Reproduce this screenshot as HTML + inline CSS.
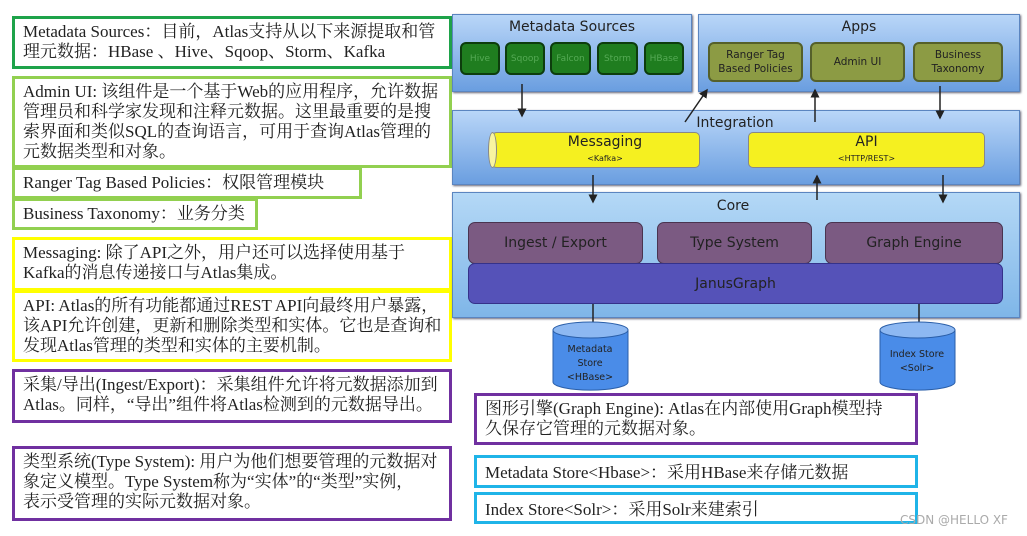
<!DOCTYPE html>
<html><head><meta charset="utf-8"><style>
body{margin:0;width:1027px;height:536px;background:#fff;position:relative;overflow:hidden;font-family:"Liberation Serif","Noto Serif CJK SC",serif;}
.t{position:absolute;box-sizing:border-box;font-size:17px;line-height:20px;color:#222;padding:3px 8px;background:#fff;white-space:nowrap;overflow:hidden}
.g1{border:3px solid #1ea34a}.g2{border:3px solid #92d050}.y{border:3px solid #ffff00}.p{border:3px solid #7030a0}.c{border:3px solid #1fb4e8}
.pan{position:absolute;box-sizing:border-box;background:linear-gradient(#b9d6f8,#6a9ee0);border:1px solid #5b85c0;box-shadow:1px 1px 2px #667;}
.lbl{position:absolute;font-family:"DejaVu Sans",sans-serif;color:#222;font-size:14px;text-align:center}
.sb{position:absolute;box-sizing:border-box;background:#1f7d1f;border:2px solid #0d3d0d;border-radius:6px;color:#55aa55;font:9px "DejaVu Sans",sans-serif;display:flex;align-items:center;justify-content:center}
.ab{position:absolute;box-sizing:border-box;background:#8c9b44;border:2px solid #55602a;border-radius:6px;color:#222;font:10.5px "DejaVu Sans",sans-serif;display:flex;align-items:center;justify-content:center;text-align:center;line-height:14px}
.pb{position:absolute;box-sizing:border-box;background:#7b5a82;border:1px solid #4a3450;border-radius:7px;color:#222;font:14px "DejaVu Sans",sans-serif;display:flex;align-items:center;justify-content:center}
</style></head><body>
<div class="t g1" style="left:12px;top:16px;width:440px;height:53px">Metadata Sources：目前，Atlas支持从以下来源提取和管<br>理元数据：HBase 、Hive、Sqoop、Storm、Kafka</div>
<div class="t g2" style="left:12px;top:76px;width:440px;height:92px">Admin UI: 该组件是一个基于Web的应用程序，允许数据<br>管理员和科学家发现和注释元数据。这里最重要的是搜<br>索界面和类似SQL的查询语言，可用于查询Atlas管理的<br>元数据类型和对象。</div>
<div class="t g2" style="left:12px;top:167px;width:350px;height:32px">Ranger Tag Based Policies：权限管理模块</div>
<div class="t g2" style="left:12px;top:198px;width:246px;height:32px">Business Taxonomy：业务分类</div>
<div class="t y" style="left:12px;top:237px;width:440px;height:54px">Messaging: 除了API之外，用户还可以选择使用基于<br>Kafka的消息传递接口与Atlas集成。</div>
<div class="t y" style="left:12px;top:290px;width:440px;height:72px">API: Atlas的所有功能都通过REST API向最终用户暴露，<br>该API允许创建，更新和删除类型和实体。它也是查询和<br>发现Atlas管理的类型和实体的主要机制。</div>
<div class="t p" style="left:12px;top:369px;width:440px;height:54px">采集/导出(Ingest/Export)：采集组件允许将元数据添加到<br>Atlas。同样，“导出”组件将Atlas检测到的元数据导出。</div>
<div class="t p" style="left:12px;top:446px;width:440px;height:75px">类型系统(Type System): 用户为他们想要管理的元数据对<br>象定义模型。Type System称为“实体”的“类型”实例，<br>表示受管理的实际元数据对象。</div>

<div class="pan" style="left:452px;top:14px;width:240px;height:78px"></div>
<div class="lbl" style="left:452px;top:19px;width:240px">Metadata Sources</div>
<div class="sb" style="left:460px;top:42px;width:40px;height:33px">Hive</div>
<div class="sb" style="left:505px;top:42px;width:40px;height:33px">Sqoop</div>
<div class="sb" style="left:550px;top:42px;width:41px;height:33px">Falcon</div>
<div class="sb" style="left:597px;top:42px;width:41px;height:33px">Storm</div>
<div class="sb" style="left:644px;top:42px;width:40px;height:33px">HBase</div>
<div class="pan" style="left:698px;top:14px;width:322px;height:78px"></div>
<div class="lbl" style="left:698px;top:19px;width:322px">Apps</div>
<div class="ab" style="left:708px;top:42px;width:95px;height:40px">Ranger Tag<br>Based Policies</div>
<div class="ab" style="left:810px;top:42px;width:95px;height:40px">Admin UI</div>
<div class="ab" style="left:913px;top:42px;width:90px;height:40px">Business<br>Taxonomy</div>

<div class="pan" style="left:452px;top:110px;width:568px;height:75px"></div>
<div class="lbl" style="left:685px;top:115px;width:100px">Integration</div>
<div style="position:absolute;left:490px;top:132px;width:210px;height:36px;box-sizing:border-box;background:#f5f020;border:1px solid #888;border-radius:7px 5px 5px 7px"></div>
<div style="position:absolute;left:488px;top:132px;width:9px;height:36px;box-sizing:border-box;background:#f8f4a0;border:1px solid #888;border-radius:50%"></div>
<div class="lbl" style="left:520px;top:135px;width:170px;line-height:15px">Messaging<br><span style="font-size:8px">&lt;Kafka&gt;</span></div>
<div style="position:absolute;left:748px;top:132px;width:237px;height:36px;box-sizing:border-box;background:#f5f020;border:1px solid #888;border-radius:5px"></div>
<div class="lbl" style="left:748px;top:135px;width:237px;line-height:15px">API<br><span style="font-size:8px">&lt;HTTP/REST&gt;</span></div>

<div class="pan" style="left:452px;top:192px;width:568px;height:126px;background:linear-gradient(#b4d8f6,#7fb6e8)"></div>
<div class="lbl" style="left:700px;top:198px;width:66px">Core</div>
<div class="pb" style="left:468px;top:222px;width:175px;height:42px">Ingest / Export</div>
<div class="pb" style="left:657px;top:222px;width:155px;height:42px">Type System</div>
<div class="pb" style="left:825px;top:222px;width:178px;height:42px">Graph Engine</div>
<div class="pb" style="left:468px;top:263px;width:535px;height:41px;background:#5552b8;border-color:#35328a">JanusGraph</div>

<svg style="position:absolute;left:0;top:0" width="1027" height="536">
<defs><marker id="a" markerWidth="6" markerHeight="6" refX="5" refY="3" orient="auto"><path d="M0,0 L6,3 L0,6z" fill="#222"/></marker></defs>
<g stroke="#222" stroke-width="1.5" marker-end="url(#a)">
<line x1="522" y1="84" x2="522" y2="116"/>
<line x1="685" y1="122" x2="707" y2="90"/>
<line x1="815" y1="122" x2="815" y2="90"/>
<line x1="940" y1="86" x2="940" y2="118"/>
<line x1="593" y1="175" x2="593" y2="202"/>
<line x1="817" y1="200" x2="817" y2="176"/>
<line x1="943" y1="175" x2="943" y2="202"/>
<line x1="593" y1="304" x2="593" y2="330"/>
<line x1="919" y1="304" x2="919" y2="330"/>
</g>
<g stroke="#2a5ea8" stroke-width="1">
<path d="M553,330 v52 a37,8 0 0 0 75,0 v-52 z" fill="#4a8ce8"/>
<ellipse cx="590.5" cy="330" rx="37.5" ry="8" fill="#8db8f2"/>
<path d="M880,330 v52 a37,8 0 0 0 75,0 v-52 z" fill="#4a8ce8"/>
<ellipse cx="917.5" cy="330" rx="37.5" ry="8" fill="#8db8f2"/>
</g>
<g font-family="DejaVu Sans,sans-serif" font-size="9.5" fill="#222" text-anchor="middle">
<text x="590" y="352">Metadata</text><text x="590" y="366">Store</text><text x="590" y="380">&lt;HBase&gt;</text>
<text x="917" y="357">Index Store</text><text x="917" y="371">&lt;Solr&gt;</text>
</g>
</svg>

<div class="t p" style="left:474px;top:393px;width:444px;height:52px">图形引擎(Graph Engine): Atlas在内部使用Graph模型持<br>久保存它管理的元数据对象。</div>
<div class="t c" style="left:474px;top:455px;width:444px;height:33px;padding-top:5px">Metadata Store&lt;Hbase&gt;：采用HBase来存储元数据</div>
<div class="t c" style="left:474px;top:492px;width:444px;height:32px;padding-top:5px">Index Store&lt;Solr&gt;：采用Solr来建索引</div>
<div style="position:absolute;left:900px;top:513px;font:12px 'DejaVu Sans',sans-serif;color:#aaa">CSDN @HELLO XF</div>
</body></html>
